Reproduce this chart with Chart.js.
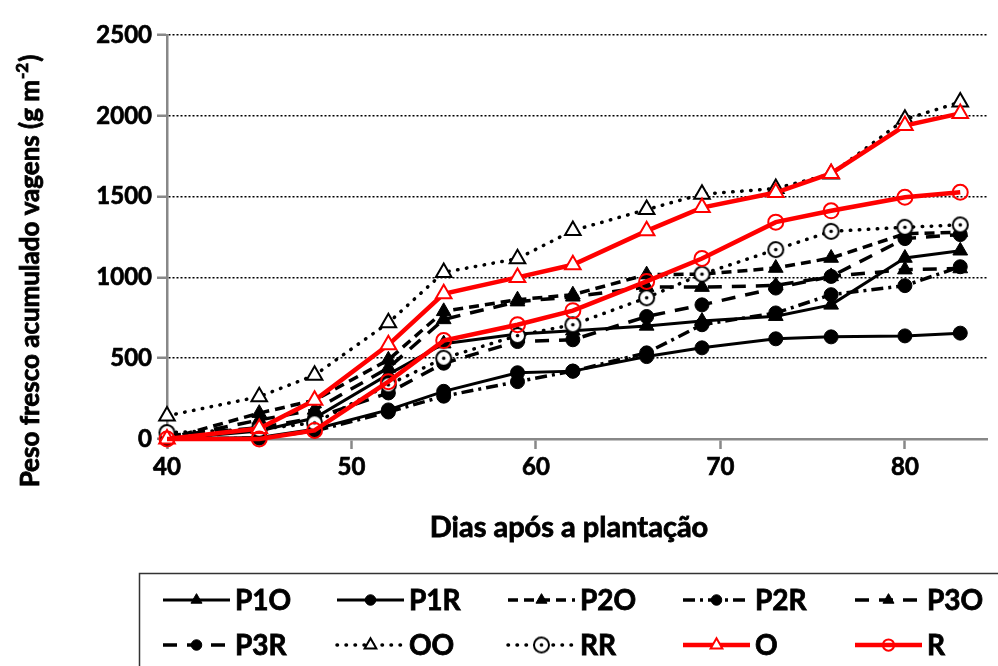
<!DOCTYPE html>
<html>
<head>
<meta charset="utf-8">
<script src="https://cdn.jsdelivr.net/npm/chart.js@4.4.0/dist/chart.umd.min.js"></script>
<style>
  html, body { margin: 0; padding: 0; background: #fff; }
  #wrap { width: 998px; height: 666px; position: relative; }
</style>
</head>
<body>
<div id="wrap"><canvas id="chart"></canvas></div>
<script>
// days after planting (x values)
const days = [40, 45, 48, 52, 55, 59, 62, 66, 69, 73, 76, 80, 83];

// accumulated fresh pod weight (g m-2)
const p1o = [0, 50, 130, 400, 590, 650, 670, 700, 730, 760, 830, 1120, 1165];
const p1r = [0, 10, 60, 180, 295, 410, 420, 510, 564, 620, 632, 638, 655];
const p2o = [0, 160, 240, 490, 790, 862, 893, 1017, 1020, 1058, 1120, 1270, 1280];
const p2r = [0, 5, 50, 167, 265, 355, 420, 533, 707, 780, 893, 949, 1066];
const p3o = [0, 118, 180, 440, 740, 850, 880, 940, 940, 950, 1006, 1048, 1055];
const p3r = [20, 70, 130, 285, 469, 603, 614, 758, 830, 934, 1006, 1240, 1265];
const oo = [143, 262, 395, 719, 1031, 1116, 1290, 1420, 1515, 1550, 1640, 1978, 2085];
const rr = [40, 60, 100, 335, 500, 640, 707, 874, 1020, 1172, 1285, 1310, 1325];
const o = [0, 65, 240, 583, 899, 1000, 1078, 1288, 1432, 1525, 1643, 1940, 2015];
const r = [0, 0, 53, 355, 609, 707, 794, 975, 1117, 1342, 1412, 1496, 1527];

const xTicks = [40, 50, 60, 70, 80];
const yTicks = [0, 500, 1000, 1500, 2000, 2500];

const xTitle = 'Dias após a plantação';
const yTitle = 'Peso fresco acumulado vagens (g m';
const yTitleSup = '-2';

const FONT = 'Lato, "Open Sans", sans-serif';

// open circle with a dot in the middle (RR marker)
function dotCircle(rad) {
    const c = document.createElement('canvas');
    const s = Math.ceil(rad * 2 + 4);
    c.width = s; c.height = s;
    const g = c.getContext('2d');
    g.beginPath();
    g.arc(s / 2, s / 2, rad, 0, Math.PI * 2);
    g.fillStyle = '#fff';
    g.fill();
    g.lineWidth = 2;
    g.strokeStyle = '#000';
    g.stroke();
    g.beginPath();
    g.arc(s / 2, s / 2, 1.8, 0, Math.PI * 2);
    g.fillStyle = '#000';
    g.fill();
    return c;
}

function series(label, values, style) {
    return Object.assign({
        label: label,
        data: days.map((d, i) => ({ x: d, y: values[i] })),
        borderColor: '#000',
        borderWidth: 3,
        pointBackgroundColor: '#000',
        pointBorderColor: '#000',
        pointBorderWidth: 1,
        pointRadius: 7,
        pointStyle: 'circle',
        tension: 0,
        clip: false
    }, style);
}

const datasets = [
    series('P1O', p1o, { pointStyle: 'triangle', pointRadius: 8.5 }),
    series('P1R', p1r, { pointStyle: 'circle' }),
    series('P2O', p2o, { pointStyle: 'triangle', pointRadius: 8.5, borderDash: [10, 6], borderWidth: 3.5 }),
    series('P2R', p2r, { pointStyle: 'circle', borderDash: [12, 5, 3, 5], borderWidth: 3.5 }),
    series('P3O', p3o, { pointStyle: 'triangle', pointRadius: 8.5, borderDash: [14, 10], borderWidth: 3.5 }),
    series('P3R', p3r, { pointStyle: 'circle', borderDash: [14, 10], borderWidth: 3.5 }),
    series('OO', oo, { pointStyle: 'triangle', pointRadius: 9, pointBackgroundColor: '#fff', pointBorderWidth: 2,
        borderDash: [0.5, 8.5], borderCapStyle: 'round', borderWidth: 3.5 }),
    series('RR', rr, { pointStyle: dotCircle(7.5), borderDash: [0.5, 8.5], borderCapStyle: 'round', borderWidth: 3.5 }),
    series('O', o, { borderColor: '#ff0000', borderWidth: 4.5, pointStyle: 'triangle', pointRadius: 9,
        pointBackgroundColor: '#fff', pointBorderColor: '#ff0000', pointBorderWidth: 2 }),
    series('R', r, { borderColor: '#ff0000', borderWidth: 4.5, pointStyle: 'circle', pointRadius: 7.5,
        pointBackgroundColor: 'rgba(255,255,255,0)', pointBorderColor: '#ff0000', pointBorderWidth: 2 })
];
// later series drawn on top, as in the original
datasets.forEach((ds, i) => { ds.order = datasets.length - i; });

// bold text with a thin outline, to get closer to the heavy original face
function boldText(ctx, text, x, y) {
    ctx.fillText(text, x, y);
    ctx.strokeText(text, x, y);
}

const overlay = {
    id: 'overlay',
    afterDraw(chart) {
        const ctx = chart.ctx;
        ctx.save();
        ctx.fillStyle = '#000';
        ctx.strokeStyle = '#000';
        ctx.lineWidth = 0.8;
        ctx.textBaseline = 'middle';

        // x title
        ctx.font = 'bold 29px ' + FONT;
        ctx.textAlign = 'center';
        boldText(ctx, xTitle, 569, 528);

        // y title with superscript
        ctx.translate(31, 272);
        ctx.rotate(-Math.PI / 2);
        ctx.font = 'bold 26px ' + FONT;
        const w1 = ctx.measureText(yTitle).width;
        ctx.font = 'bold 17px ' + FONT;
        const w2 = ctx.measureText(yTitleSup).width;
        ctx.font = 'bold 26px ' + FONT;
        const w3 = ctx.measureText(')').width;
        let x0 = -(w1 + w2 + w3) / 2;
        ctx.textAlign = 'left';
        boldText(ctx, yTitle, x0, 0);
        ctx.font = 'bold 17px ' + FONT;
        boldText(ctx, yTitleSup, x0 + w1 + 1, -8);
        ctx.font = 'bold 26px ' + FONT;
        boldText(ctx, ')', x0 + w1 + w2 + 2, 0);
        ctx.restore();

        // legend box
        ctx.save();
        ctx.strokeStyle = '#333';
        ctx.lineWidth = 1.5;
        ctx.strokeRect(139.5, 573.5, 900, 120);

        const cols = [163, 337, 508, 683, 855];
        const rows = [600, 645];
        chart.data.datasets.forEach((ds, i) => {
            const x = cols[i % 5];
            const y = rows[Math.floor(i / 5)];
            const len = 67;
            ctx.save();
            ctx.strokeStyle = ds.borderColor;
            ctx.lineWidth = ds.borderWidth;
            ctx.lineCap = ds.borderCapStyle || 'butt';
            ctx.setLineDash(ds.borderDash || []);
            ctx.beginPath();
            ctx.moveTo(x, y);
            ctx.lineTo(x + len, y);
            ctx.stroke();
            ctx.setLineDash([]);
            ctx.fillStyle = ds.pointBackgroundColor;
            ctx.strokeStyle = ds.pointBorderColor;
            ctx.lineWidth = ds.pointBorderWidth;
            Chart.helpers.drawPoint(ctx, {
                pointStyle: ds.pointStyle,
                radius: ds.pointRadius * 0.75,
                rotation: 0,
                borderWidth: ds.pointBorderWidth
            }, x + len / 2, y);
            ctx.restore();
            ctx.fillStyle = '#000';
            ctx.strokeStyle = '#000';
            ctx.lineWidth = 0.8;
            ctx.font = 'bold 28px ' + FONT;
            ctx.textAlign = 'left';
            ctx.textBaseline = 'middle';
            boldText(ctx, ds.label, x + len + 5, y + 1);
        });
        ctx.restore();
    }
};

const tickFont = { family: FONT, size: 24, weight: 'bold' };

new Chart(document.getElementById('chart').getContext('2d'), {
    type: 'line',
    data: { datasets: datasets },
    options: {
        responsive: true,
        maintainAspectRatio: false,
        animation: false,
        layout: { padding: { top: 35, right: 0, bottom: 0, left: 0 } },
        plugins: {
            legend: { display: false },
            tooltip: { enabled: false }
        },
        scales: {
            x: {
                type: 'linear',
                min: 40,
                max: 84.45,
                afterBuildTicks: function (scale) {
                    scale.ticks = xTicks.map(v => ({ value: v }));
                },
                afterFit: function (scale) { scale.height = 666 - 439; },
                ticks: { font: tickFont, color: '#000', padding: 4, maxRotation: 0,
                    textStrokeColor: '#000', textStrokeWidth: 0.7,
                    callback: v => String(v) },
                grid: { drawOnChartArea: false, drawTicks: true, tickLength: 10, tickColor: '#888', tickWidth: 2.5 },
                border: { color: '#888', width: 2.5 }
            },
            y: {
                min: 0,
                max: 2500,
                afterBuildTicks: function (scale) {
                    scale.ticks = yTicks.map(v => ({ value: v }));
                },
                afterFit: function (scale) { scale.width = 167; },
                ticks: { font: tickFont, color: '#000', padding: 5,
                    textStrokeColor: '#000', textStrokeWidth: 0.7,
                    callback: v => String(v) },
                grid: {
                    color: c => (c.tick && c.tick.value === 0) ? 'rgba(0,0,0,0)' : '#000',
                    lineWidth: 1.5,
                    tickColor: '#888',
                    tickLength: 10,
                    tickWidth: 2.5
                },
                border: { color: '#888', width: 2.5, dash: [2, 2] }
            }
        }
    },
    plugins: [overlay]
});
</script>
</body>
</html>
